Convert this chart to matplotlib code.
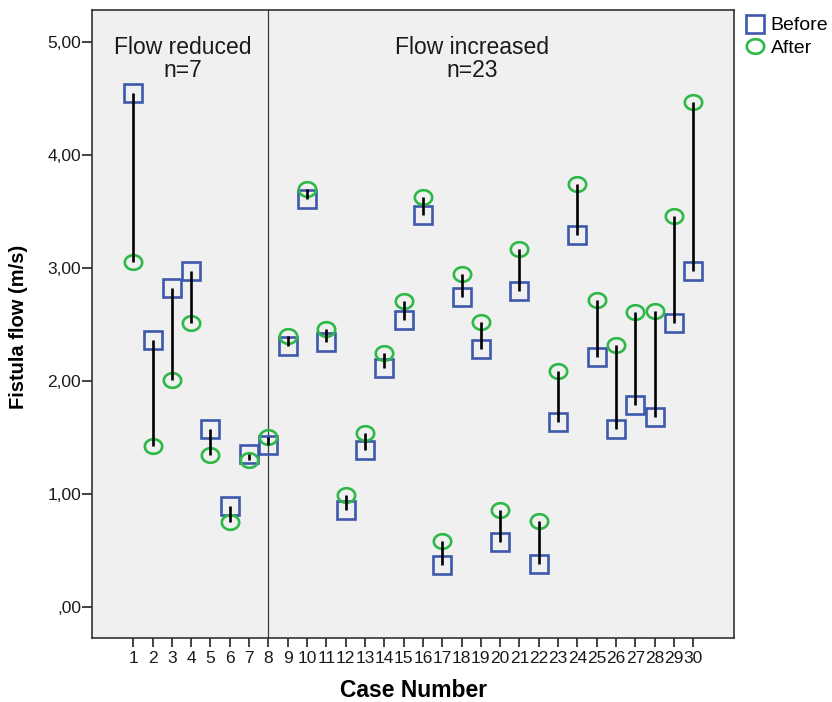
import numpy as np
import matplotlib
matplotlib.use("Agg")
import matplotlib.pyplot as plt
from matplotlib.path import Path

# ---------------- data ----------------
CASES = list(range(1, 31))
BEFORE = [4.55, 2.36, 2.82, 2.97, 1.57, 0.89, 1.35, 1.43,
          2.31, 3.61, 2.34, 0.86, 1.39, 2.11, 2.54, 3.47, 0.37, 2.74,
          2.28, 0.57, 2.80, 0.38, 1.64, 3.29, 2.21, 1.57, 1.79, 1.68, 2.51, 2.97]
AFTER = [3.05, 1.42, 2.01, 2.51, 1.34, 0.75, 1.30, 1.50,
         2.40, 3.70, 2.46, 0.99, 1.54, 2.25, 2.71, 3.63, 0.58, 2.95,
         2.52, 0.86, 3.17, 0.76, 2.09, 3.74, 2.72, 2.32, 2.61, 2.62, 3.46, 4.47]
YTICKS = [0, 1, 2, 3, 4, 5]
YTICK_LABELS = [",00", "1,00", "2,00", "3,00", "4,00", "5,00"]
SPLIT_CASE = 8
GROUP_LABELS = ["Flow reduced\nn=7", "Flow increased\nn=23"]

BLUE = "#3E58AC"
GREEN = "#2EB848"

plt.rcParams["font.family"] = ["Liberation Sans", "DejaVu Sans"]

# slightly flattened circle like the original SPSS marker
t = np.linspace(0, 2 * np.pi, 60)
ellipse = Path(np.column_stack([np.cos(t), 0.84 * np.sin(t)]), closed=True)

fig = plt.figure(figsize=(8.32, 7.02), dpi=100)
ax = fig.add_axes([0.1109, 0.0912, 0.7713, 0.8946])
ax.set_facecolor("#F0F0F0")

ax.axvline(SPLIT_CASE, color="#3a3a3a", lw=0.9, zorder=1)

ax.plot(CASES, BEFORE, ls="none", marker="s", ms=12.5, mfc="none",
        mec=BLUE, mew=1.9, label="Before", zorder=3)
ax.plot(CASES, AFTER, ls="none", marker=ellipse, ms=12.5, mfc="none",
        mec=GREEN, mew=1.9, label="After", zorder=3)
ax.vlines(CASES, BEFORE, AFTER, color="black", lw=1.9, zorder=4)

ax.text(3.55, 4.85, GROUP_LABELS[0], ha="center", va="center",
        fontsize=16.5, color="#1a1a1a", linespacing=1.0)
ax.text(18.55, 4.85, GROUP_LABELS[1], ha="center", va="center",
        fontsize=16.5, color="#1a1a1a", linespacing=1.0)

ax.set_xlim(-1.12, 32.11)
ax.set_ylim(-0.277, 5.285)
ax.set_xticks(CASES)
ax.set_xticklabels([str(c) for c in CASES])
ax.set_yticks(YTICKS)
ax.set_yticklabels(YTICK_LABELS)

ax.tick_params(axis="x", direction="out", length=6.5, width=1.2,
               color="#222222", pad=3, labelsize=12.5, labelcolor="#1a1a1a")
ax.tick_params(axis="y", direction="out", length=7.5, width=1.2,
               color="#222222", pad=0.5, labelsize=12.5, labelcolor="#1a1a1a")
for s in ax.spines.values():
    s.set_color("#333333")
    s.set_linewidth(1.2)

ax.set_xlabel("Case Number", fontsize=16.5, fontweight="bold", va="center")
ax.xaxis.set_label_coords(0.5, -0.0844)
ax.set_ylabel("Fistula flow (m/s)", fontsize=14.5, fontweight="bold", va="center")
ax.yaxis.set_label_coords(-0.115, 0.496)

ax.legend(loc="upper left", bbox_to_anchor=(0.896, 0.976),
          bbox_transform=fig.transFigure, frameon=False, fontsize=14,
          handlelength=1.0, handletextpad=0.3, labelspacing=0.25,
          borderpad=0, borderaxespad=0)

fig.savefig("out.png", dpi=100)
